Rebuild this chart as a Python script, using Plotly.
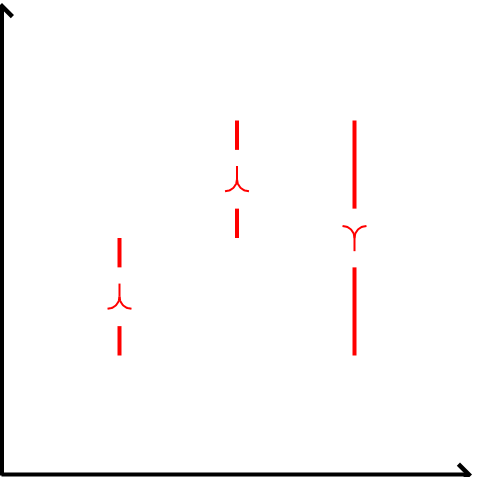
import numpy as np
import plotly.graph_objects as go

# data
categories = [1, 2, 3]
lows = [1, 2, 1]
highs = [2, 3, 3]
directions = ["up", "up", "down"]

# style constants
gap_half = 0.25      # half gap around the glyph, in axis units
glyph_r = 0.102      # glyph arm radius, in axis units

fig = go.Figure()

# range segments with a gap in the middle
xs, ys = [], []
for c, lo, hi in zip(categories, lows, highs):
    mid = (lo + hi) / 2
    xs += [c, c, None, c, c, None]
    ys += [lo, mid - gap_half, None, mid + gap_half, hi, None]
fig.add_trace(go.Scatter(x=xs, y=ys, mode="lines",
                         line=dict(color="#ff0000", width=4),
                         hoverinfo="skip", showlegend=False))

# curved "Y" glyphs at the mid point
t = np.linspace(0, np.pi / 2, 24)
gx, gy = [], []
for c, lo, hi, d in zip(categories, lows, highs, directions):
    mid = (lo + hi) / 2
    s = 1 if d == "down" else -1   # arms on top for "down", below for "up"
    gx += list(c - glyph_r + glyph_r * np.cos(t)) + [None]
    gy += list(mid + s * glyph_r * np.sin(t)) + [None]
    gx += list(c + glyph_r - glyph_r * np.cos(t)) + [None]
    gy += list(mid + s * glyph_r * np.sin(t)) + [None]
    gx += [c, c, None]
    gy += [mid, mid - s * glyph_r * 1.1, None]
fig.add_trace(go.Scatter(x=gx, y=gy, mode="lines",
                         line=dict(color="#ff0000", width=2),
                         hoverinfo="skip", showlegend=False))

# axes with arrows
annotations = [
    dict(x=0, y=1, xref="paper", yref="paper", ax=0, ay=480,
         showarrow=True, arrowhead=4, arrowwidth=4, arrowsize=1,
         arrowcolor="black", text=""),
    dict(x=1, y=0, xref="paper", yref="paper", ax=-480, ay=0, yshift=-1.5,
         showarrow=True, arrowhead=4, arrowwidth=4, arrowsize=1,
         arrowcolor="black", text=""),
]

fig.update_layout(
    width=477, height=477,
    margin=dict(l=2, r=5, t=3, b=4, autoexpand=False),
    paper_bgcolor="white", plot_bgcolor="white",
    xaxis=dict(range=[0, 4], visible=False),
    yaxis=dict(range=[0, 4], visible=False),
    annotations=annotations,
)
fig.write_html("out.html", config={"displayModeBar": False},
               post_script="document.body.style.margin='0';")
